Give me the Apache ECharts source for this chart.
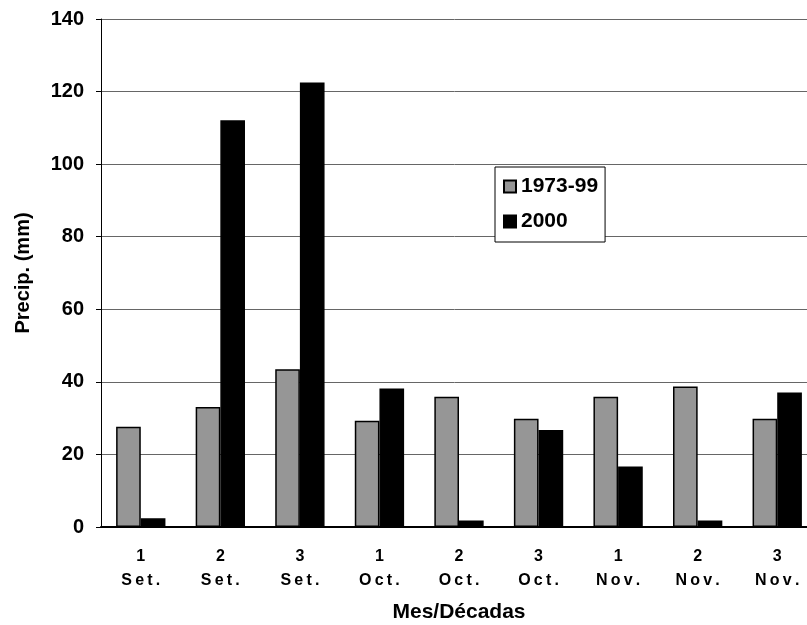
<!DOCTYPE html>
<html>
<head>
<meta charset="utf-8">
<script src="https://cdn.jsdelivr.net/npm/echarts@6/dist/echarts.min.js"></script>
<style>
  html, body { margin: 0; padding: 0; background: #fff; }
</style>
</head>
<body>
<div id="chart" style="width: 807px;height:625px;"></div>
<script>
// decades of each month
var decadas = ['1\nSet.', '2\nSet.', '3\nSet.', '1\nOct.', '2\nOct.', '3\nOct.', '1\nNov.', '2\nNov.', '3\nNov.'];
var serieNames = ['1973-99', '2000'];
var precip7399 = [27.6, 33.1, 43.5, 29.3, 35.9, 29.8, 35.9, 38.7, 29.8];
var precip2000 = [2.4, 112.1, 122.5, 38.2, 1.8, 26.7, 16.7, 1.8, 37.1];

var font = 'Liberation Sans, Arial, sans-serif';
var myChart = echarts.init(document.getElementById('chart'));

// wide letter spacing on the month names, like the original
function spaced(v) {
  var lines = v.split('\n');
  lines[1] = lines[1].split('').join('\u2009');
  return lines.join('\n');
}

var option = {
  backgroundColor: '#fff',
  animation: false,
  grid: {
    left: 101,
    right: -10,
    top: 19,
    bottom: 98,
    outerBoundsMode: 'none'
  },
  legend: {
    data: serieNames,
    orient: 'vertical',
    left: 495,
    top: 167,
    padding: [9, 7, 10, 8],
    itemGap: 14,
    itemWidth: 12,
    itemHeight: 12,
    icon: 'rect',
    backgroundColor: '#fff',
    borderColor: '#000',
    borderWidth: 1,
    textStyle: {
      fontFamily: font,
      fontWeight: 'bold',
      fontSize: 21,
      color: '#000'
    }
  },
  xAxis: {
    type: 'category',
    data: decadas,
    name: 'Mes/Décadas',
    nameLocation: 'middle',
    nameGap: 75,
    nameMoveOverlap: false,
    nameTextStyle: {
      fontFamily: font,
      fontWeight: 'bold',
      fontSize: 21,
      color: '#000'
    },
    axisLine: { lineStyle: { color: '#000', width: 2 } },
    axisTick: { length: 6, lineStyle: { color: '#000', width: 1 } },
    axisLabel: {
      margin: 18,
      lineHeight: 24,
      fontFamily: font,
      fontWeight: 'bold',
      fontSize: 16,
      color: '#000',
      formatter: spaced
    }
  },
  yAxis: {
    type: 'value',
    min: 0,
    max: 140,
    interval: 20,
    name: 'Precip. (mm)',
    nameLocation: 'middle',
    nameGap: 68,
    nameTextStyle: {
      fontFamily: font,
      fontWeight: 'bold',
      fontSize: 20,
      color: '#000'
    },
    axisLine: { show: true, lineStyle: { color: '#000', width: 1 } },
    axisTick: { show: true, length: 5, lineStyle: { color: '#000' } },
    axisLabel: {
      margin: 17,
      fontFamily: font,
      fontWeight: 'bold',
      fontSize: 20,
      color: '#000'
    },
    splitLine: { lineStyle: { color: '#666', width: 1 } }
  },
  series: [
    {
      name: serieNames[0],
      type: 'bar',
      data: precip7399,
      barWidth: '31%',
      barGap: '0%',
      itemStyle: { color: '#969696', borderColor: '#000', borderWidth: 1.5 }
    },
    {
      name: serieNames[1],
      type: 'bar',
      data: precip2000,
      barWidth: '31%',
      itemStyle: { color: '#000', borderColor: '#000', borderWidth: 1.5 }
    }
  ]
};
myChart.setOption(option);
</script>
</body>
</html>
